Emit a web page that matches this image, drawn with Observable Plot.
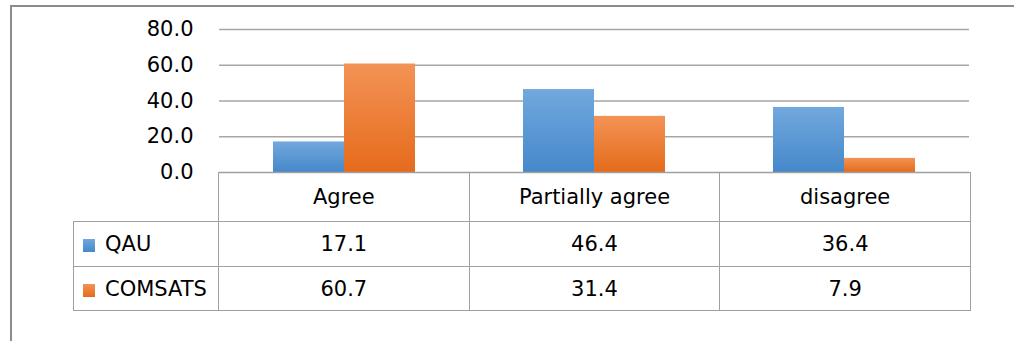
<!DOCTYPE html>
<html>
<head>
<meta charset="utf-8">
<script src="https://cdn.jsdelivr.net/npm/d3@7"></script>
<script src="https://cdn.jsdelivr.net/npm/@observablehq/plot@0.6"></script>
<style>
  html, body { margin: 0; padding: 0; background: #fff; }
  #wrap { position: relative; width: 1014px; height: 341px; overflow: hidden; font-family: "DejaVu Sans", sans-serif; }
  #frame { position: absolute; left: 10px; top: 5px; width: 1100px; height: 400px; border-left: 2px solid #8c8c8c; border-top: 2px solid #8c8c8c; }
  #chart { position: absolute; left: 0; top: 0; }
  #table { position: absolute; left: 73px; top: 172px; border-collapse: collapse; table-layout: fixed; width: 897px; font-size: 21px; color: #000; }
  #table td { border: 1.5px solid #a0a0a0; text-align: center; vertical-align: middle; padding: 0; }
  #table tr.head td { height: 48px; }
  #table tr.row1 td { height: 44px; }
  #table tr.row2 td { height: 43px; }
  #table td.blank { border: none; border-bottom: 1.5px solid #a0a0a0; }
  #table td.leg { text-align: left; padding-left: 9px; white-space: nowrap; }
  .sw { display: inline-block; width: 12px; height: 13px; margin-right: 10px; vertical-align: -1px; }
</style>
</head>
<body>
<div id="wrap">
  <div id="frame"></div>
  <div id="chart"></div>
  <table id="table"></table>
</div>
<script>
const categories = ["Agree", "Partially agree", "disagree"];
const seriesNames = ["QAU", "COMSATS"];
const qauValues = [17.1, 46.4, 36.4];
const comsatsValues = [60.7, 31.4, 7.9];
const yTicks = [0, 20, 40, 60, 80];

const seriesValues = [qauValues, comsatsValues];
const gradIds = ["gradQAU", "gradCOMSATS"];
const gradStops = [["#72a8dd", "#4588ca"], ["#f39356", "#e56b1b"]];

const data = [];
seriesNames.forEach((s, i) => {
  categories.forEach((c, j) => data.push({category: c, series: s, value: seriesValues[i][j]}));
});

const chart = Plot.plot({
  width: 1014,
  height: 200,
  marginTop: 29,
  marginBottom: 28,
  marginLeft: 218,
  marginRight: 44,
  style: {fontFamily: "DejaVu Sans, sans-serif", fontSize: "21px", color: "#000", background: "transparent", overflow: "visible"},
  fx: {domain: categories, paddingInner: 0, paddingOuter: 0, axis: null, label: null},
  x: {domain: seriesNames, paddingInner: 0, paddingOuter: 0.753, axis: null, label: null},
  y: {domain: [0, 80], axis: null, label: null},
  color: {domain: seriesNames, range: gradIds.map(id => `url(#${id})`)},
  marks: [
    Plot.ruleY(yTicks.filter(t => t > 0), {stroke: "#a6a6a6", strokeWidth: 1.5}),
    Plot.barY(data, {fx: "category", x: "series", y: "value", fill: "series"}),
    Plot.ruleY([0], {stroke: "#a0a0a0", strokeWidth: 1.5}),
    Plot.axisY({ticks: yTicks, tickFormat: d3.format(".1f"), tickSize: 0, tickPadding: 26, line: true, label: null, stroke: "#a6a6a6", strokeWidth: 1.5, fill: "#000", fontSize: 21})
  ]
});

// gradient definitions
const svg = d3.select(chart);
const defs = svg.insert("defs", ":first-child");
gradIds.forEach((id, i) => {
  const g = defs.append("linearGradient").attr("id", id).attr("x1", 0).attr("y1", 0).attr("x2", 0).attr("y2", 1);
  g.append("stop").attr("offset", "0%").attr("stop-color", gradStops[i][0]);
  g.append("stop").attr("offset", "100%").attr("stop-color", gradStops[i][1]);
});
document.getElementById("chart").appendChild(chart);

// data table
const table = d3.select("#table");
const cg = table.append("colgroup");
cg.append("col").style("width", "145px");
categories.forEach(() => cg.append("col").style("width", ((897 - 145) / categories.length) + "px"));
const head = table.append("tr").attr("class", "head");
head.append("td").attr("class", "blank");
categories.forEach(c => head.append("td").text(c));
seriesNames.forEach((s, i) => {
  const tr = table.append("tr").attr("class", "row" + (i + 1));
  const leg = tr.append("td").attr("class", "leg");
  leg.append("span").attr("class", "sw").style("background", `linear-gradient(${gradStops[i][0]}, ${gradStops[i][1]})`);
  leg.append("span").text(s);
  seriesValues[i].forEach(v => tr.append("td").text(d3.format(".1f")(v)));
});
</script>
</body>
</html>
